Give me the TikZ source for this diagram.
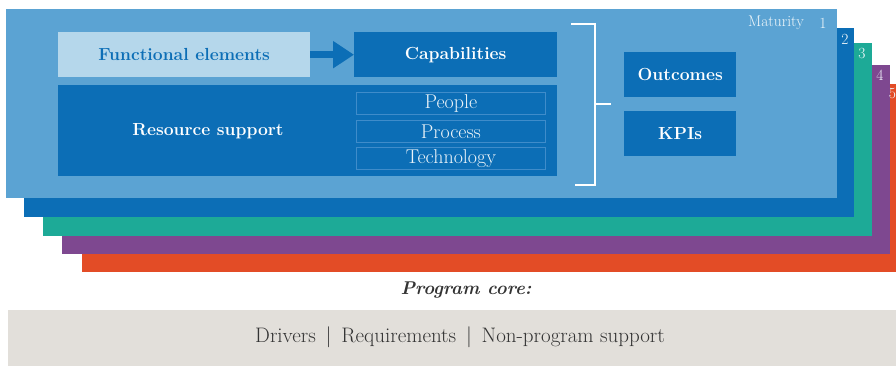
\documentclass[tikz,border=0pt]{standalone}
\usetikzlibrary{arrows.meta}

\definecolor{lightblue}{HTML}{5BA3D3}
\definecolor{darkblue}{HTML}{0C6EB6}
\definecolor{tealgreen}{HTML}{1DAA97}
\definecolor{plum}{HTML}{7E4890}
\definecolor{rust}{HTML}{E34C26}
\definecolor{paleblue}{HTML}{B5D7EB}
\definecolor{subline}{HTML}{3F8CCA}
\definecolor{coregray}{HTML}{E2DFDA}
\definecolor{coretext}{HTML}{333333}

\begin{document}
\begin{tikzpicture}[x=1pt,y=-1pt,
  box/.style={fill=darkblue,text=white,inner sep=0pt,anchor=north west,
    font=\bfseries\fontsize{17.5}{20}\selectfont},
  subbox/.style={draw=subline,line width=0.8pt,text=white!92!darkblue,inner sep=0pt,
    anchor=north west,minimum width=189pt,minimum height=22pt,
    font=\fontsize{20}{22}\selectfont},
  lvl/.style={text=white!92!lightblue,inner sep=0pt,font=\fontsize{15.5}{17}\selectfont}]
\useasboundingbox (0,0) rectangle (896,366);

% maturity levels, back to front
\fill[rust] (82,84) rectangle (910,272);
\fill[plum] (62,65) rectangle (890,254);
\fill[tealgreen] (43,43) rectangle (872,236);
\fill[darkblue] (24,28) rectangle (854,217);
\fill[lightblue] (6,9) rectangle (837,198);

\node[lvl] (mat) at (776,23) {Maturity};
\node[lvl] (n1) at (823,23) {1};
\node[lvl] (n2) at (845,39) {2};
\node[lvl] (n3) at (862,54) {3};
\node[lvl] (n4) at (880,75) {4};
\node[lvl] (n5) at (892.5,94) {5};

% left block
\node[box,fill=paleblue,text=darkblue,minimum width=252pt,minimum height=45pt] (func) at (58,32) {Functional elements};
\node[box,minimum width=203pt,minimum height=45pt] (cap) at (354,32) {Capabilities};
\draw[darkblue,line width=7pt,-{Triangle[length=21pt,width=26pt]}] (func.east) -- (cap.west);

\node[box,minimum width=499pt,minimum height=91pt] (res) at (58,85) {};
\node[text=white,font=\bfseries\fontsize{17.5}{20}\selectfont] (restxt) at (208,131) {Resource support};
\node[subbox] (people) at (356,92) {People};
\node[subbox] (process) at (356,120) {Process};
\node[subbox] (tech) at (356,147) {Technology};

% bracket
\coordinate (btop) at (571,24);
\coordinate (bbot) at (575,185);
\coordinate (bmid) at (595,104);
\draw[white,line width=1.4pt] (btop) -| (bbot -| bmid) -- (bbot);
\draw[white,line width=1.4pt] (bmid) -- ++(16,0);

% right block
\node[box,minimum width=112pt,minimum height=45pt] (out) at (624,52) {Outcomes};
\node[box,minimum width=112pt,minimum height=45pt] (kpi) at (624,111) {KPIs};

% program core
\node[text=coretext,font=\bfseries\itshape\fontsize{18.5}{21}\selectfont] (core) at (466,290) {Program core:};
\fill[coregray] (8,310) rectangle (896,366);
\node[text=coretext,font=\fontsize{21}{24}\selectfont] (drivers) at (460,337) {Drivers \,|\, Requirements \,|\, Non-program support};
\end{tikzpicture}
\end{document}
